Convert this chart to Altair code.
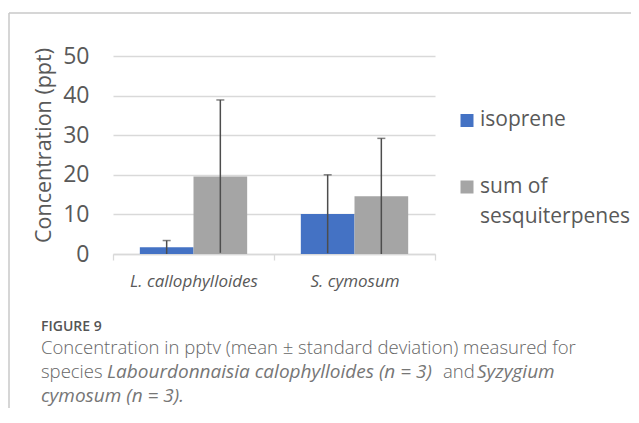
import altair as alt
import pandas as pd

# ---- data ----
species = ["L. callophylloides", "S. cymosum"]
series = ["isoprene", "sum of sesquiterpenes"]
isoprene_mean = [1.7, 10.1]
isoprene_sd = [1.7, 9.9]
sesq_mean = [19.6, 14.6]
sesq_sd = [19.3, 14.6]
y_ticks = [0, 10, 20, 30, 40, 50]
colors = ["#4472C4", "#A5A5A5"]

rows = []
for i, sp in enumerate(species):
    for s, m, sd in ((series[0], isoprene_mean[i], isoprene_sd[i]),
                     (series[1], sesq_mean[i], sesq_sd[i])):
        rows.append({"species": sp, "series": s, "mean": m,
                     "lo": max(0.0, m - sd), "hi": m + sd})
df = pd.DataFrame(rows)

W, H = 322, 198
FONT = "Open Sans"
CAP_FONT = "Open Sans"
CAP_SIZE = 18.5
IT_SIZE = 19

x_axis = alt.Axis(labelAngle=0, labelFont=FONT, labelFontSize=17,
                  labelFontStyle="italic", labelColor="#595959",
                  labelPadding=13, domainColor="#d9d9d9", domainWidth=1.3,
                  tickColor="#d9d9d9", tickWidth=1.3, tickSize=6,
                  tickBand="extent", title=None)
y_axis = alt.Axis(values=y_ticks, labelFont=FONT, labelFontSize=23,
                  labelColor="#595959", labelPadding=24, labelOverlap=False,
                  domain=False, ticks=False, gridColor="#d9d9d9", gridWidth=1.3,
                  title="Concentration (ppt)",
                  titleFont=FONT, titleFontSize=21.5, titleFontWeight="normal",
                  titleColor="#595959", titleAngle=-90, titleX=-69, titleY=89,
                  titleAlign="center", titleBaseline="middle")
x_scale = alt.Scale(paddingInner=0, paddingOuter=0)
xo_scale = alt.Scale(paddingInner=0, paddingOuter=0.5)
y_scale = alt.Scale(domain=[0, 50], nice=False)


def X():
    return alt.X("species:N", sort=species, scale=x_scale, axis=x_axis)


def XO():
    return alt.XOffset("series:N", sort=series, scale=xo_scale)


base = alt.Chart(df)

bars = base.mark_bar().encode(
    x=X(), xOffset=XO(),
    y=alt.Y("mean:Q", scale=y_scale, axis=y_axis),
    color=alt.Color("series:N", scale=alt.Scale(domain=series, range=colors), legend=None),
)

err = base.mark_rule(color="#4d4d4d", strokeWidth=1.5).encode(
    x=X(), xOffset=XO(),
    y=alt.Y("lo:Q", scale=y_scale, axis=y_axis),
    y2="hi:Q",
)
caps = base.mark_tick(color="#4d4d4d", thickness=1.5, size=8).encode(
    x=X(), xOffset=XO(),
    y=alt.Y("hi:Q", scale=y_scale, axis=y_axis),
)

one = pd.DataFrame({"a": [0]})

# ---- legend (drawn by hand, to match the wrapped label) ----
leg_sq = [
    alt.Chart(one).mark_square(size=169, opacity=1, color=colors[0]).encode(
        x=alt.value(354), y=alt.value(64.5)),
    alt.Chart(one).mark_square(size=169, opacity=1, color=colors[1]).encode(
        x=alt.value(354), y=alt.value(131)),
]


def txt(t, x, y, size, color="#595959", style="normal", font=FONT, weight="normal"):
    return alt.Chart(one).mark_text(text=t, align="left", baseline="middle", font=font,
                                    fontSize=size, color=color, fontStyle=style,
                                    fontWeight=weight).encode(x=alt.value(x), y=alt.value(y))


legend_txt = [txt("isoprene", 367, 64, 21), txt("sum of", 367, 131, 21),
              txt("sesquiterpenes", 367, 161, 21)]

# ---- caption ----
CAP = "#666666"
CAP_IT = "#767676"
caption = [
    txt("FIGURE 9", -72, 271, 14, color="#555555", font=CAP_FONT, weight=600),
    txt("Concentration in pptv (mean \u00b1 standard deviation) measured for", -72, 292, CAP_SIZE,
        color=CAP, font=CAP_FONT, weight=300),
    txt("species", -72, 316, CAP_SIZE, color=CAP, font=CAP_FONT, weight=300),
    txt("Labourdonnaisia calophylloides (n = 3)", -6, 316, IT_SIZE, color=CAP_IT,
        font=CAP_FONT, style="italic"),
    txt("and", 330, 316, CAP_SIZE, color=CAP, font=CAP_FONT, weight=300),
    txt("Syzygium", 364, 316, IT_SIZE, color=CAP_IT, font=CAP_FONT, style="italic"),
    txt("cymosum (n = 3).", -72, 340, IT_SIZE, color=CAP_IT, font=CAP_FONT,
        style="italic"),
]

# ---- frame lines ----
frame_top = alt.Chart(one).mark_rule(color="#c8c8c8", strokeWidth=1.5).encode(
    x=alt.value(-104), x2=alt.value(520), y=alt.value(-43))
frame_left = alt.Chart(one).mark_rule(color="#c8c8c8", strokeWidth=1.5).encode(
    x=alt.value(-104), y=alt.value(-43), y2=alt.value(360))

chart = alt.layer(bars, err, caps, *leg_sq, *legend_txt, *caption, frame_top, frame_left).properties(
    width=W, height=H,
    padding={"left": 105, "top": 48, "right": 196, "bottom": 154},
    autosize=alt.AutoSizeParams(type="none"),
).configure_view(stroke=None)

chart.save("out.html", embed_options={"renderer": "svg", "actions": False})
